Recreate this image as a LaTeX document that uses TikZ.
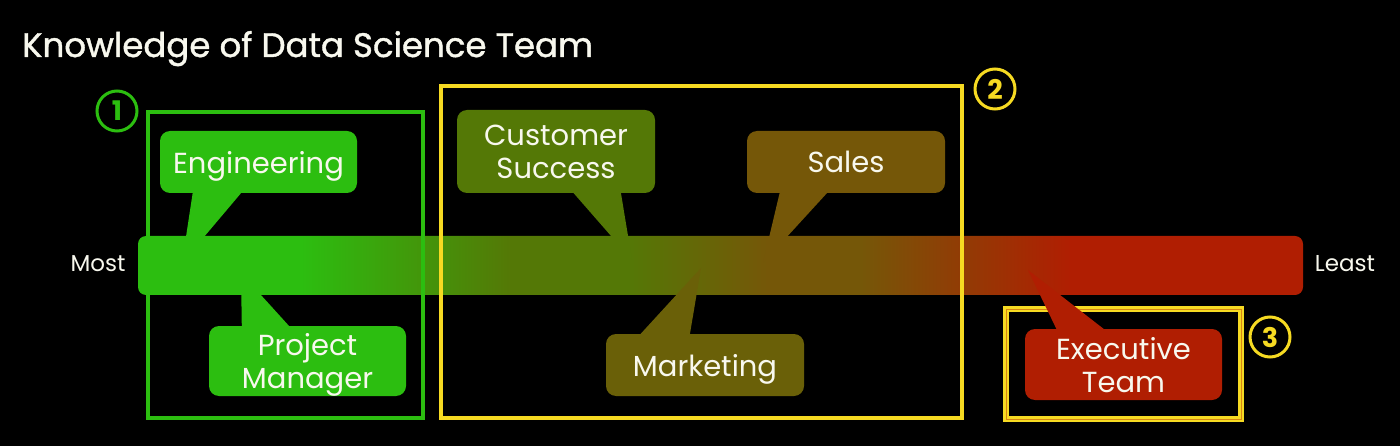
\documentclass[tikz,border=0pt]{standalone}
\usepackage{fontspec}
\setmainfont{Poppins}
\newfontfamily\titlefont{Poppins}[FakeBold=1.2]
\usepackage{tikz}
\definecolor{exgreen}{RGB}{44,190,16}
\definecolor{exolive}{RGB}{84,120,6}
\definecolor{exmkt}{RGB}{106,96,8}
\definecolor{exbrown}{RGB}{117,87,8}
\definecolor{exred}{RGB}{176,30,2}
\definecolor{exyellow}{RGB}{246,218,34}
\definecolor{extext}{RGB}{248,248,238}
\pgfdeclarehorizontalshading{knowbar}{100bp}{color(0bp)=(exgreen); color(25bp)=(exgreen); color(32bp)=(exgreen); color(41bp)=(exolive); color(46bp)=(exolive); color(52bp)=(exbrown); color(56bp)=(exbrown); color(65bp)=(exred); color(75bp)=(exred); color(100bp)=(exred)}
\tikzset{callout/.style={fill=#1, rounded corners=10pt, text=extext, align=center, inner sep=0pt,
  minimum width=197pt, text depth=0pt, font=\fontsize{29}{33}\selectfont},
callout/.default={exgreen},
numring/.style={circle, draw=#1, text=#1, line width=3pt, minimum size=40pt, inner sep=0pt,
  font=\fontsize{27}{27}\selectfont\bfseries}}

\begin{document}
\begin{tikzpicture}[x=1pt,y=-1pt]
\useasboundingbox (0,0) rectangle (1400,446);
\fill[black] (0,0) rectangle (1400,446);
% title
\node[anchor=base west, inner sep=0pt, text=extext, font=\fontsize{34}{34}\titlefont] (title) at (22,57) {Knowledge of Data Science Team};

% scale bar
\path[shading=knowbar, rounded corners=8pt] (138,236) rectangle (1303,295);
\node[text=extext, font=\fontsize{23}{23}\selectfont] (most) at (98,264) {Most};
\node[text=extext, font=\fontsize{23}{23}\selectfont] (least) at (1345,264) {Least};

% groups
\draw[exgreen, line width=3.5pt] (148,112) rectangle (423,418);
\draw[exyellow, line width=3.5pt] (441,86) rectangle (962,418);
\draw[exyellow, line width=3.2pt, double=exyellow!55!exred, double distance=0.5pt] (1006,309) rectangle (1241,419);
\node[numring=exgreen] (one) at (117,111) {1};
\node[numring=exyellow] (two) at (995,89) {2};
\node[numring=exyellow] (three) at (1270,337) {3};

% tips on the bar
\coordinate (engtip) at (182,263);
\coordinate (pmtip) at (241,273);
\coordinate (cstip) at (632,260);
\coordinate (mkttip) at (701,268);
\coordinate (salestip) at (763,263);
\coordinate (exectip) at (1028,270);

% callouts
\node[callout, minimum height=62pt] (eng) at (258.5,162) {Engineering};
\fill[exgreen] ([xshift=33pt,yshift=1pt]eng.south west) -- ([xshift=82pt,yshift=1pt]eng.south west) -- (engtip) -- cycle;

\node[callout, minimum height=70pt] (pm) at (307.5,361) {Project\\Manager};
\fill[exgreen] ([xshift=33pt,yshift=-1pt]pm.north west) -- ([xshift=81pt,yshift=-1pt]pm.north west) -- (pmtip) -- cycle;

\node[callout=exolive, minimum width=198pt, minimum height=83pt] (cs) at (556,151.5) {Customer\\Success};
\fill[exolive] ([xshift=116pt,yshift=1pt]cs.south west) -- ([xshift=164pt,yshift=1pt]cs.south west) -- (cstip) -- cycle;

\node[callout=exbrown, minimum width=198pt, minimum height=62pt] (sales) at (846,162) {Sales};
\fill[exbrown] ([xshift=33pt,yshift=1pt]sales.south west) -- ([xshift=81pt,yshift=1pt]sales.south west) -- (salestip) -- cycle;

\node[callout=exmkt, minimum width=198pt, minimum height=62pt] (mkt) at (705,365) {Marketing};
\fill[exmkt] ([xshift=34pt,yshift=-1pt]mkt.north west) -- ([xshift=84pt,yshift=-1pt]mkt.north west) -- (mkttip) -- cycle;

\node[callout=exred, minimum height=71pt] (exec) at (1123.5,364.5) {Executive\\Team};
\fill[exred] ([xshift=32pt,yshift=-1pt]exec.north west) -- ([xshift=80pt,yshift=-1pt]exec.north west) -- (exectip) -- cycle;

\end{tikzpicture}
\end{document}
